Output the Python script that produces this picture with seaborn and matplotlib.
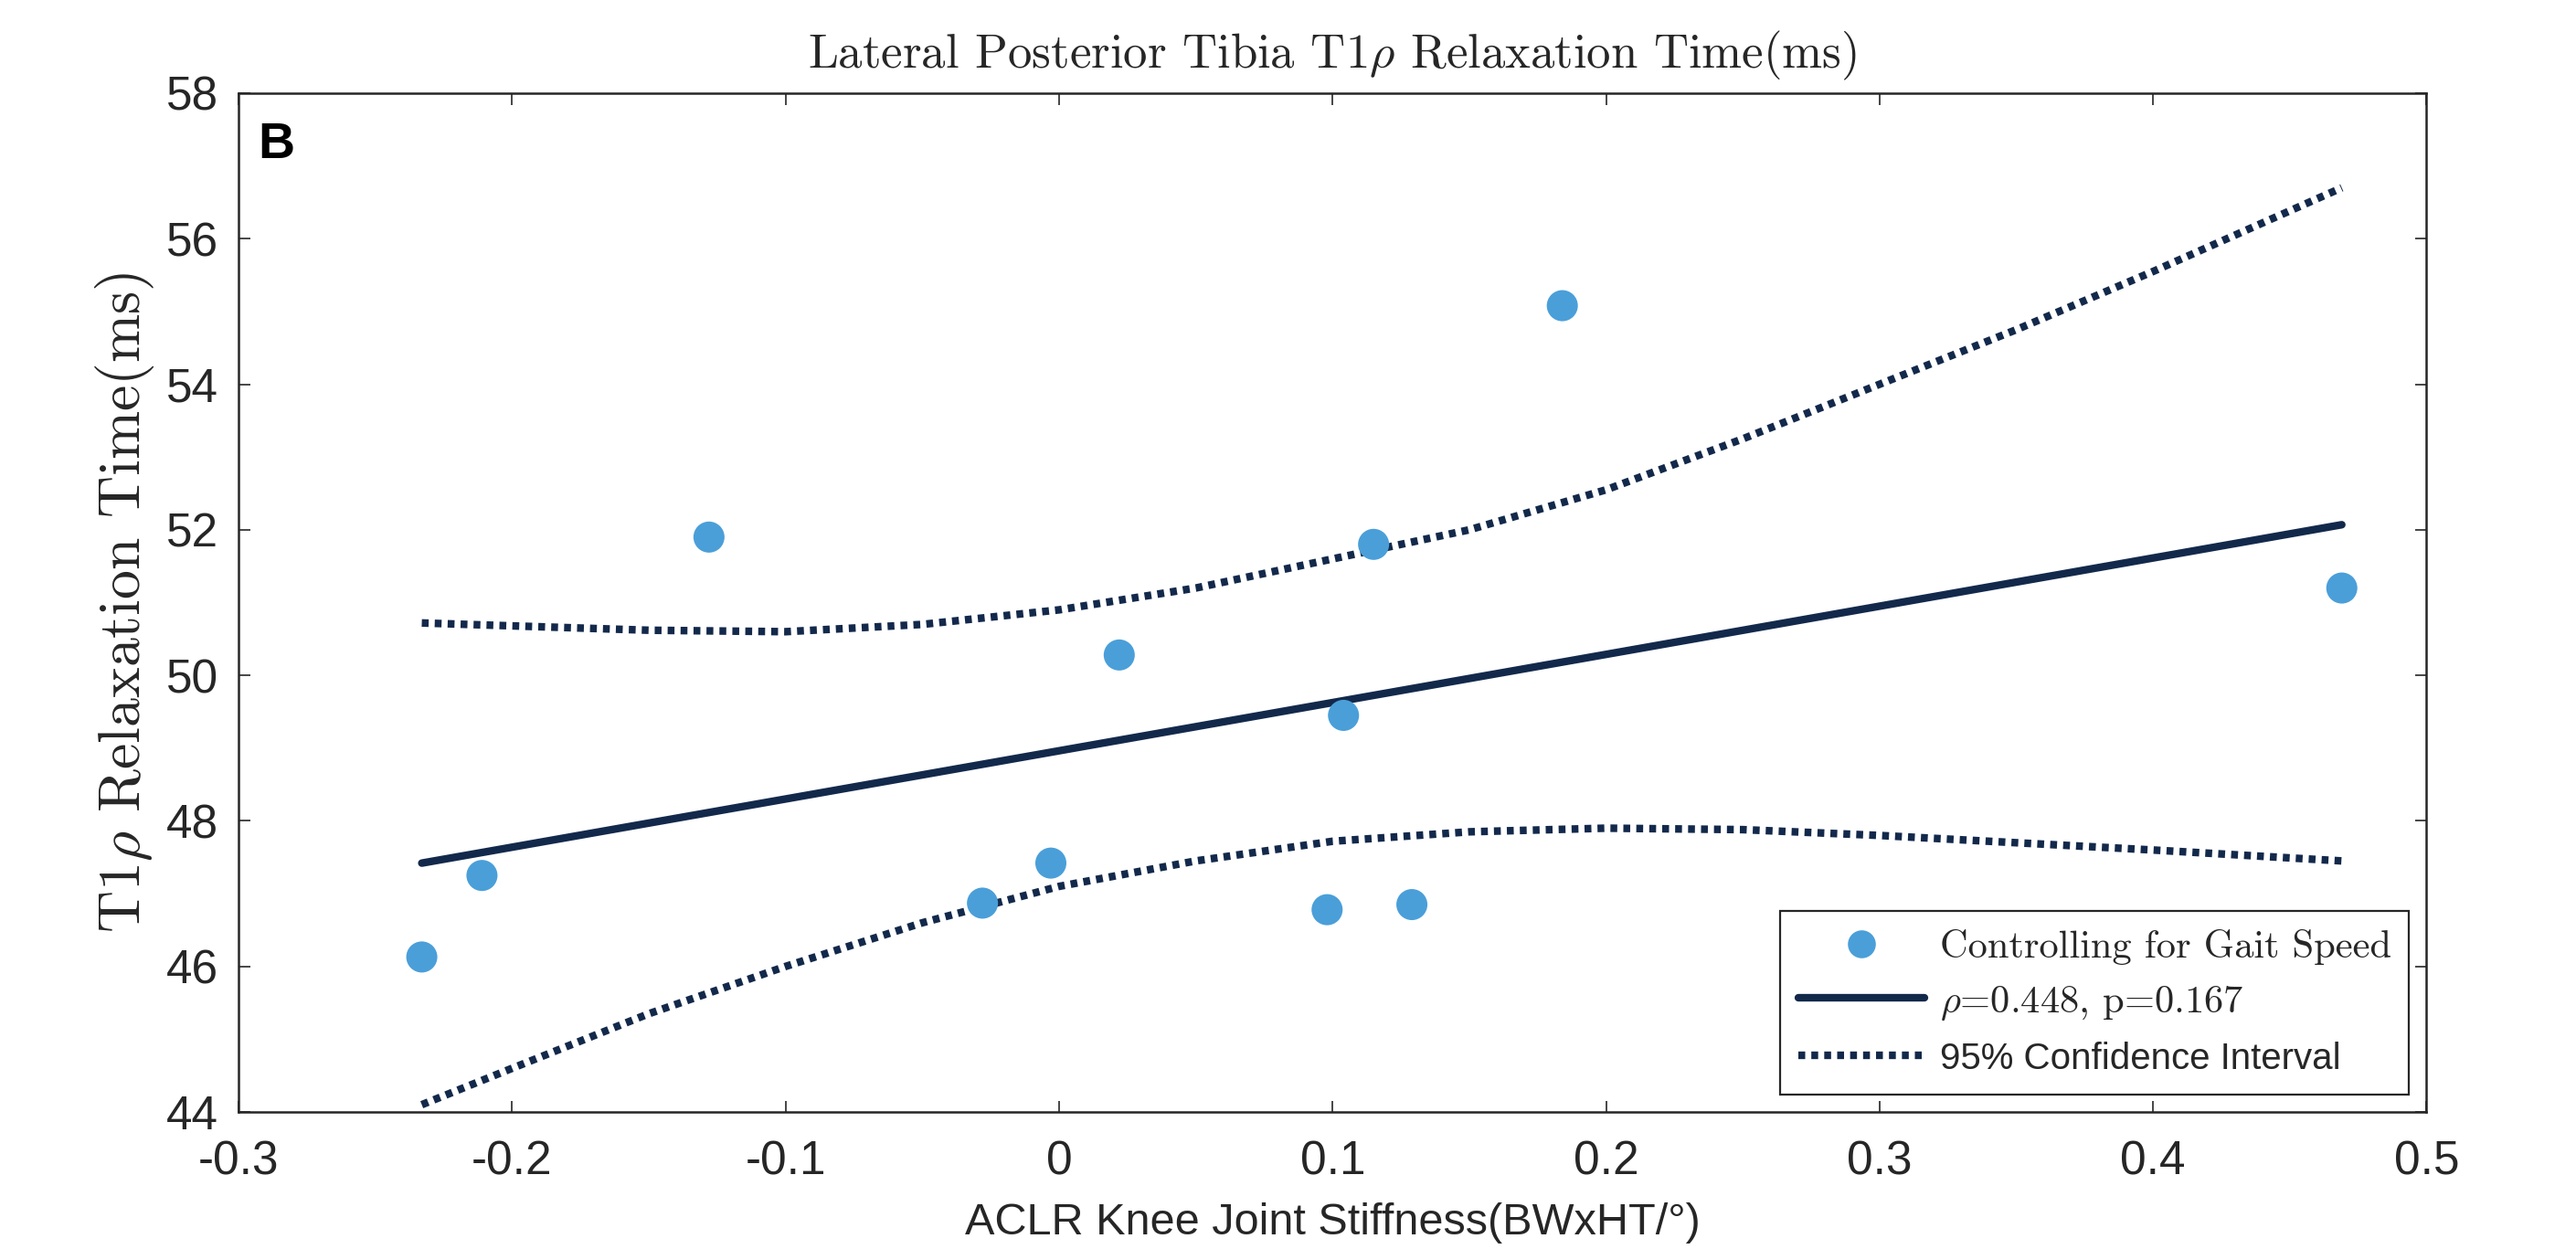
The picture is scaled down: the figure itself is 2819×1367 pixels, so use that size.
import numpy as np
import pandas as pd
import seaborn as sns
import matplotlib.pyplot as plt
from matplotlib.lines import Line2D

# scatter points
stiffness = [-0.233, -0.211, -0.128, -0.028, -0.003, 0.022, 0.098, 0.104, 0.115, 0.129, 0.184, 0.469]
t1rho = [46.13, 47.25, 51.90, 46.87, 47.42, 50.28, 46.78, 49.45, 51.80, 46.85, 55.08, 51.20]

# fitted line end points
fit_x = [-0.233, 0.469]
fit_y = [47.42, 52.07]

# 95% confidence bounds, read at several x positions
ci_x = [-0.233, -0.2, -0.15, -0.1, -0.05, 0.0, 0.05, 0.1, 0.15, 0.2, 0.25, 0.3, 0.35, 0.4, 0.469]
ci_upper = [50.72, 50.68, 50.62, 50.60, 50.70, 50.90, 51.20, 51.60, 52.00, 52.55, 53.25, 54.00, 54.75, 55.55, 56.70]
ci_lower = [44.10, 44.60, 45.35, 46.00, 46.60, 47.10, 47.45, 47.72, 47.85, 47.90, 47.88, 47.80, 47.70, 47.60, 47.45]

xticks = [-0.3, -0.2, -0.1, 0, 0.1, 0.2, 0.3, 0.4, 0.5]
xticklabels = ['-0.3', '-0.2', '-0.1', '0', '0.1', '0.2', '0.3', '0.4', '0.5']
yticks = [44, 46, 48, 50, 52, 54, 56, 58]

sns.set_theme(style='white')
plt.rcParams['font.family'] = ['Liberation Sans', 'DejaVu Sans']
plt.rcParams['mathtext.fontset'] = 'cm'
plt.rcParams['axes.unicode_minus'] = False

navy = '#13294b'
blue = '#4a9fd9'
dots = (0, (0.9, 0.8))
serif = 'cmr10'

fig = plt.figure(figsize=(14.095, 6.835), dpi=200)
ax = fig.add_axes([0.0926, 0.1097, 0.8494, 0.8157])

sns.scatterplot(x=stiffness, y=t1rho, ax=ax, color=blue, s=150, edgecolor='none', zorder=3)
sns.lineplot(x=fit_x, y=fit_y, ax=ax, color=navy, linewidth=3.0)
sns.lineplot(x=ci_x, y=ci_upper, ax=ax, color=navy, linewidth=3.0, sort=False)
sns.lineplot(x=ci_x, y=ci_lower, ax=ax, color=navy, linewidth=3.0, sort=False)
ax.lines[1].set_linestyle(dots)
ax.lines[2].set_linestyle(dots)

ax.set_xlim(-0.3, 0.5)
ax.set_ylim(44, 58)
ax.set_xticks(xticks)
ax.set_xticklabels(xticklabels)
ax.set_yticks(yticks)
ax.tick_params(direction='in', length=4.5, width=0.6, top=True, right=True,
               labelsize=18.5, colors='#262626', bottom=True, left=True)
ax.tick_params(axis='x', pad=11)
ax.tick_params(axis='y', pad=8)
for sp in ax.spines.values():
    sp.set_visible(True)
    sp.set_color('#262626')
    sp.set_linewidth(0.9)

ax.set_title(r'Lateral Posterior Tibia T1$\rho$ Relaxation Time(ms)',
             fontsize=19, pad=10, family=serif)
ax.set_ylabel(r'T1$\rho$ Relaxation Time(ms)', fontsize=23, labelpad=4, family=serif)
ax.set_xlabel('ACLR Knee Joint Stiffness(BWxHT/°)', fontsize=17.5, color='#262626', labelpad=7)

ax.text(0.009, 0.972, 'B', transform=ax.transAxes, fontsize=20, fontweight='bold',
        va='top', ha='left', color='black')

handles = [
    Line2D([], [], marker='o', linestyle='none', color=blue, markersize=10),
    Line2D([], [], color=navy, linewidth=3.0),
    Line2D([], [], color=navy, linewidth=3.0, linestyle=dots),
]
labels = ['Controlling for Gait Speed', r'$\rho$=0.448, p=0.167', '95% Confidence Interval']
leg = ax.legend(handles, labels, loc='lower right', fontsize=15.5, frameon=True,
                fancybox=False, framealpha=1, edgecolor='#262626', borderaxespad=0.45,
                handlelength=3.2, handletextpad=0.4, labelspacing=0.5, borderpad=0.45)
leg.get_frame().set_linewidth(0.8)
for t in leg.get_texts()[:2]:
    t.set_family(serif)
    t.set_fontsize(15.3)
leg.get_texts()[2].set_fontsize(14.5)

fig.savefig('out.png', dpi=200, facecolor='white')
